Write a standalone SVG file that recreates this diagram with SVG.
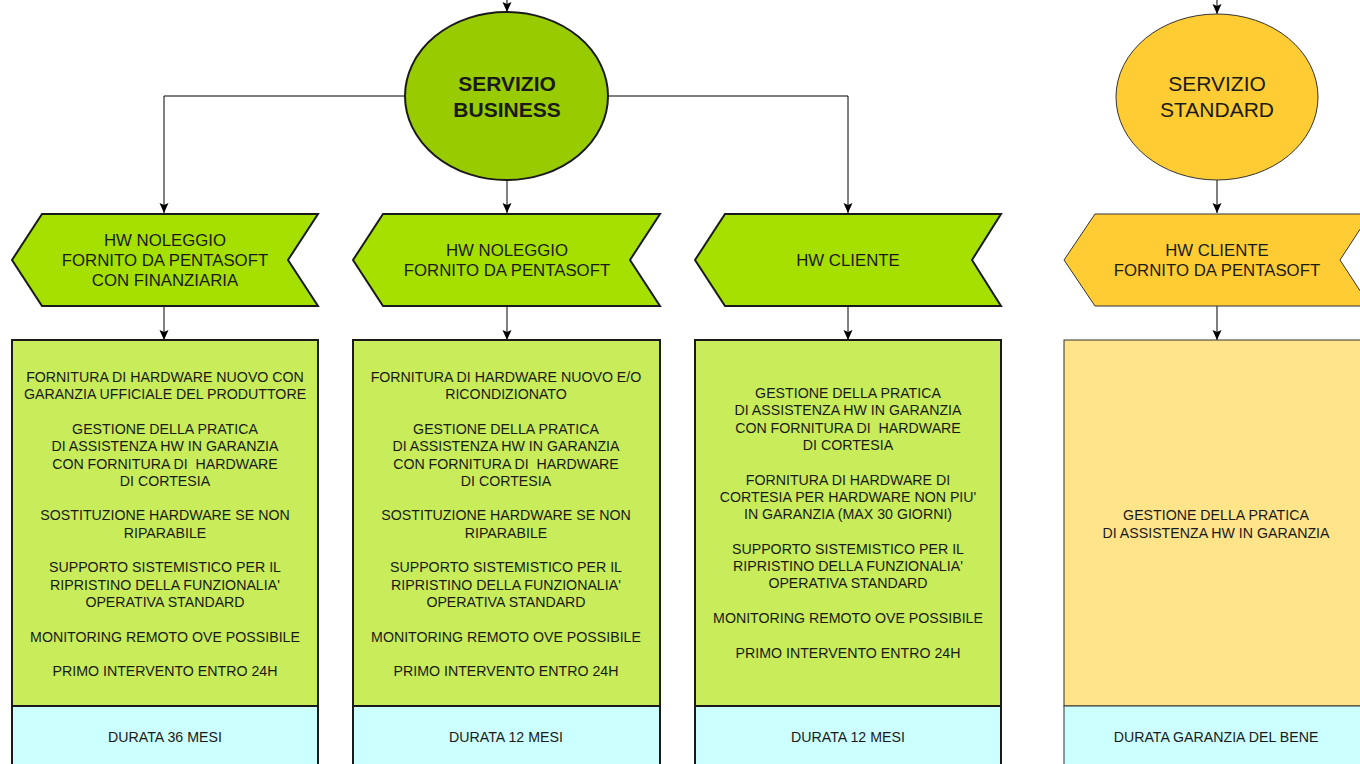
<svg xmlns="http://www.w3.org/2000/svg" width="1360" height="764" viewBox="0 0 1360 764">
<style>
text{font-family:"Liberation Sans",Arial,sans-serif;fill:#1a1a1a;text-anchor:middle;white-space:pre}
.c{font-size:21px}
.b{font-weight:bold}
.ch{font-size:16.8px}
.t{font-size:14.2px}
.gs{stroke:#1a1a1a;stroke-width:2}
.os{stroke:#333;stroke-width:1}
.ln{fill:none;stroke:#000;stroke-width:1}
</style>
<defs>
<marker id="ar" markerWidth="10" markerHeight="12" refX="10" refY="5" orient="auto" markerUnits="userSpaceOnUse">
<path d="M0,0.5 L10,5 L0,9.5 L2,5 Z" fill="#000"/>
</marker>
</defs>
<rect width="1360" height="764" fill="#fff"/>
<g id="connectors">
<path class="ln" d="M507,0 V12" marker-end="url(#ar)"/>
<path class="ln" d="M1217,0 V14" marker-end="url(#ar)"/>
<path class="ln" d="M405,96 H164 V213" marker-end="url(#ar)"/>
<path class="ln" d="M608,96 H848 V213" marker-end="url(#ar)"/>
<path class="ln" d="M507,180 V213" marker-end="url(#ar)"/>
<path class="ln" d="M1217,180 V213" marker-end="url(#ar)"/>
<path class="ln" d="M164,306 V340" marker-end="url(#ar)"/>
<path class="ln" d="M507,306 V340" marker-end="url(#ar)"/>
<path class="ln" d="M848,306 V340" marker-end="url(#ar)"/>
<path class="ln" d="M1217,306 V340" marker-end="url(#ar)"/>
</g>
<g id="servizio-business">
<ellipse cx="506.5" cy="96" rx="101.5" ry="84" fill="#99cc00" class="gs"/>
<text class="c b" x="507" y="90.5">SERVIZIO</text>
<text class="c b" x="507" y="116.5">BUSINESS</text>
</g>
<g id="servizio-standard">
<ellipse cx="1217" cy="97" rx="101" ry="83" fill="#ffcc33" class="os"/>
<text class="c" x="1217" y="90.5">SERVIZIO</text>
<text class="c" x="1217" y="116.5">STANDARD</text>
</g>
<g id="hw-noleggio-finanziaria">
<polygon points="12,260 42,214 318,214 288,260 318,306 42,306" fill="#a5e000" class="gs"/>
<text class="ch" x="165" y="245.8">HW NOLEGGIO</text>
<text class="ch" x="165" y="265.8">FORNITO DA PENTASOFT</text>
<text class="ch" x="165" y="285.8">CON FINANZIARIA</text>
</g>
<g id="hw-noleggio">
<polygon points="353,260 383,214 660,214 630,260 660,306 383,306" fill="#a5e000" class="gs"/>
<text class="ch" x="507" y="255.8">HW NOLEGGIO</text>
<text class="ch" x="507" y="275.8">FORNITO DA PENTASOFT</text>
</g>
<g id="hw-cliente">
<polygon points="695,260 725,214 1001,214 972,260 1001,306 725,306" fill="#a5e000" class="gs"/>
<text class="ch" x="848" y="265.8">HW CLIENTE</text>
</g>
<g id="hw-cliente-standard">
<polygon points="1064,260 1095,214 1370,214 1340,260 1370,306 1095,306" fill="#ffcc33" class="os"/>
<text class="ch" x="1217" y="255.8">HW CLIENTE</text>
<text class="ch" x="1217" y="275.8">FORNITO DA PENTASOFT</text>
</g>
<g id="box-finanziaria">
<rect x="12" y="340" width="306" height="366" fill="#c8ec5a" class="gs"/>
<rect x="12" y="706" width="306" height="70" fill="#ccffff" class="gs"/>
<text class="t" x="165" y="382">FORNITURA DI HARDWARE NUOVO CON</text>
<text class="t" x="165" y="399.3">GARANZIA UFFICIALE DEL PRODUTTORE</text>
<text class="t" x="165" y="433.9">GESTIONE DELLA PRATICA</text>
<text class="t" x="165" y="451.2">DI ASSISTENZA HW IN GARANZIA</text>
<text class="t" x="165" y="468.5">CON FORNITURA DI  HARDWARE</text>
<text class="t" x="165" y="485.8">DI CORTESIA</text>
<text class="t" x="165" y="520.4">SOSTITUZIONE HARDWARE SE NON</text>
<text class="t" x="165" y="537.7">RIPARABILE</text>
<text class="t" x="165" y="572.3">SUPPORTO SISTEMISTICO PER IL</text>
<text class="t" x="165" y="589.6">RIPRISTINO DELLA FUNZIONALIA'</text>
<text class="t" x="165" y="606.9">OPERATIVA STANDARD</text>
<text class="t" x="165" y="641.5">MONITORING REMOTO OVE POSSIBILE</text>
<text class="t" x="165" y="676.1">PRIMO INTERVENTO ENTRO 24H</text>
<text class="t" x="165" y="742">DURATA 36 MESI</text>
</g>
<g id="box-noleggio">
<rect x="353" y="340" width="307" height="366" fill="#c8ec5a" class="gs"/>
<rect x="353" y="706" width="307" height="70" fill="#ccffff" class="gs"/>
<text class="t" x="506" y="382">FORNITURA DI HARDWARE NUOVO E/O</text>
<text class="t" x="506" y="399.3">RICONDIZIONATO</text>
<text class="t" x="506" y="433.9">GESTIONE DELLA PRATICA</text>
<text class="t" x="506" y="451.2">DI ASSISTENZA HW IN GARANZIA</text>
<text class="t" x="506" y="468.5">CON FORNITURA DI  HARDWARE</text>
<text class="t" x="506" y="485.8">DI CORTESIA</text>
<text class="t" x="506" y="520.4">SOSTITUZIONE HARDWARE SE NON</text>
<text class="t" x="506" y="537.7">RIPARABILE</text>
<text class="t" x="506" y="572.3">SUPPORTO SISTEMISTICO PER IL</text>
<text class="t" x="506" y="589.6">RIPRISTINO DELLA FUNZIONALIA'</text>
<text class="t" x="506" y="606.9">OPERATIVA STANDARD</text>
<text class="t" x="506" y="641.5">MONITORING REMOTO OVE POSSIBILE</text>
<text class="t" x="506" y="676.1">PRIMO INTERVENTO ENTRO 24H</text>
<text class="t" x="506" y="742">DURATA 12 MESI</text>
</g>
<g id="box-cliente">
<rect x="695" y="340" width="306" height="366" fill="#c8ec5a" class="gs"/>
<rect x="695" y="706" width="306" height="70" fill="#ccffff" class="gs"/>
<text class="t" x="848" y="398">GESTIONE DELLA PRATICA</text>
<text class="t" x="848" y="415.3">DI ASSISTENZA HW IN GARANZIA</text>
<text class="t" x="848" y="432.6">CON FORNITURA DI  HARDWARE</text>
<text class="t" x="848" y="449.9">DI CORTESIA</text>
<text class="t" x="848" y="484.5">FORNITURA DI HARDWARE DI</text>
<text class="t" x="848" y="501.8">CORTESIA PER HARDWARE NON PIU'</text>
<text class="t" x="848" y="519.1">IN GARANZIA (MAX 30 GIORNI)</text>
<text class="t" x="848" y="553.7">SUPPORTO SISTEMISTICO PER IL</text>
<text class="t" x="848" y="571">RIPRISTINO DELLA FUNZIONALIA'</text>
<text class="t" x="848" y="588.3">OPERATIVA STANDARD</text>
<text class="t" x="848" y="622.9">MONITORING REMOTO OVE POSSIBILE</text>
<text class="t" x="848" y="657.5">PRIMO INTERVENTO ENTRO 24H</text>
<text class="t" x="848" y="742">DURATA 12 MESI</text>
</g>
<g id="box-standard">
<rect x="1064" y="340" width="306" height="366" fill="#ffe48a" class="os"/>
<rect x="1064" y="706" width="306" height="70" fill="#ccffff" class="os"/>
<text class="t" x="1216" y="520.4">GESTIONE DELLA PRATICA</text>
<text class="t" x="1216" y="537.7">DI ASSISTENZA HW IN GARANZIA</text>
<text class="t" x="1216" y="742">DURATA GARANZIA DEL BENE</text>
</g>
</svg>
